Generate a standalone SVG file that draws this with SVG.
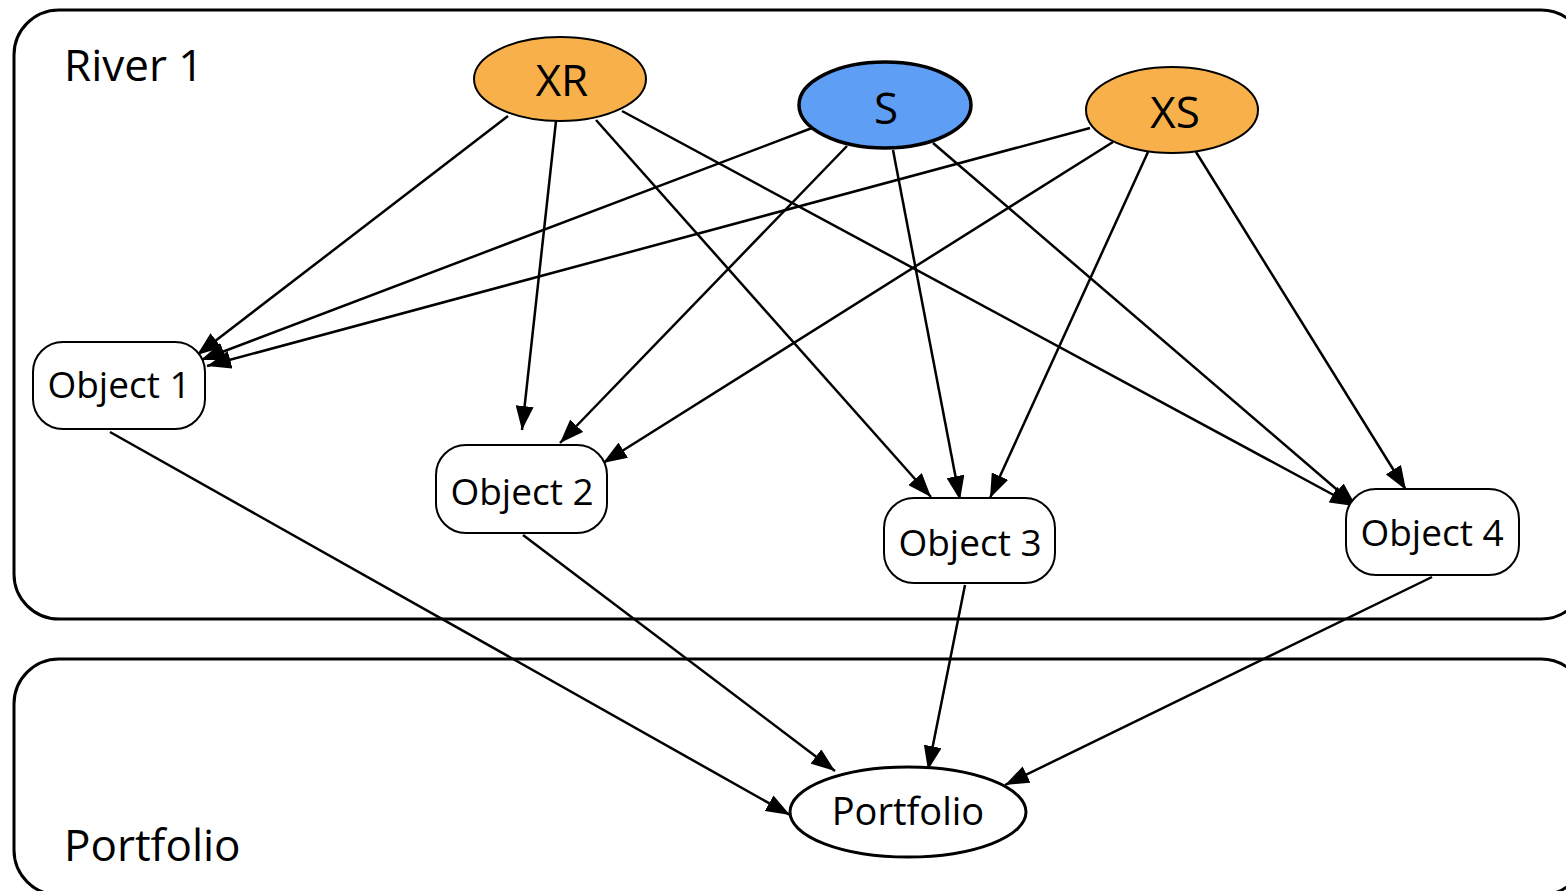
<svg xmlns="http://www.w3.org/2000/svg" width="1566" height="891" viewBox="0 0 1566 891">
<defs>
<style>
.lbl{font-family:"Open Sans","Liberation Sans",sans-serif;fill:#000}
.cont{fill:none;stroke:#000;stroke-width:3}
.obj{fill:#fff;stroke:#000;stroke-width:2}
.e{fill:none;stroke:#000;stroke-width:2.5;marker-end:url(#ah)}
</style>
<marker id="ah" viewBox="0 0 24 18" refX="24" refY="9" markerWidth="24" markerHeight="18" markerUnits="userSpaceOnUse" orient="auto">
<path d="M0,0 L24,9 L0,18 Z" fill="#000"/>
</marker>
</defs>
<rect width="1566" height="891" fill="#fff"/>
<g id="river1">
<rect class="cont" x="14" y="10" width="1572" height="609" rx="45" ry="45"/>
<text class="lbl" x="64" y="81" font-size="44">River 1</text>
</g>
<g id="portfolio-group">
<rect class="cont" x="14" y="659" width="1572" height="236" rx="45" ry="45"/>
<text class="lbl" x="64" y="861" font-size="44">Portfolio</text>
</g>
<g id="connectors">
<line class="e" x1="508" y1="116" x2="197" y2="355"/>
<line class="e" x1="556" y1="121" x2="522" y2="430"/>
<line class="e" x1="596" y1="120" x2="931" y2="497"/>
<line class="e" x1="622" y1="111" x2="1354" y2="506"/>
<line class="e" x1="812" y1="128" x2="201" y2="360"/>
<line class="e" x1="847" y1="146" x2="560" y2="443"/>
<line class="e" x1="893" y1="150" x2="960" y2="500"/>
<line class="e" x1="933" y1="143" x2="1356" y2="506"/>
<line class="e" x1="1090" y1="128" x2="207" y2="366"/>
<line class="e" x1="1113" y1="142" x2="603" y2="463"/>
<line class="e" x1="1148" y1="152" x2="990" y2="498"/>
<line class="e" x1="1196" y1="152" x2="1406" y2="490"/>
<line class="e" x1="110" y1="432" x2="790" y2="815"/>
<line class="e" x1="523" y1="535" x2="835" y2="771"/>
<line class="e" x1="965" y1="585" x2="928" y2="770"/>
<line class="e" x1="1432" y1="577" x2="1005" y2="785"/>
</g>
<g id="XR">
<ellipse cx="560" cy="79" rx="86" ry="42" fill="#F8B14A" stroke="#000" stroke-width="2"/>
<text class="lbl" x="562" y="96" font-size="44" text-anchor="middle">XR</text>
</g>
<g id="S">
<ellipse cx="885" cy="105" rx="86" ry="43" fill="#5E9EF5" stroke="#000" stroke-width="3.5"/>
<text class="lbl" x="886" y="124" font-size="44" text-anchor="middle">S</text>
</g>
<g id="XS">
<ellipse cx="1172" cy="110" rx="86" ry="43" fill="#F8B14A" stroke="#000" stroke-width="2"/>
<text class="lbl" x="1175" y="128" font-size="44" text-anchor="middle">XS</text>
</g>
<g id="object1">
<rect class="obj" x="33" y="342" width="172" height="87" rx="30" ry="30"/>
<text class="lbl" x="119" y="398" font-size="37" text-anchor="middle">Object 1</text>
</g>
<g id="object2">
<rect class="obj" x="436" y="445" width="171" height="88" rx="30" ry="30"/>
<text class="lbl" x="522" y="505" font-size="37" text-anchor="middle">Object 2</text>
</g>
<g id="object3">
<rect class="obj" x="884" y="498" width="171" height="85" rx="30" ry="30"/>
<text class="lbl" x="970" y="556" font-size="37" text-anchor="middle">Object 3</text>
</g>
<g id="object4">
<rect class="obj" x="1346" y="489" width="173" height="86" rx="30" ry="30"/>
<text class="lbl" x="1432" y="546" font-size="37" text-anchor="middle">Object 4</text>
</g>
<g id="portfolio">
<ellipse cx="908" cy="812" rx="118" ry="45" fill="#fff" stroke="#000" stroke-width="3"/>
<text class="lbl" x="908" y="825" font-size="38" text-anchor="middle">Portfolio</text>
</g>
</svg>
